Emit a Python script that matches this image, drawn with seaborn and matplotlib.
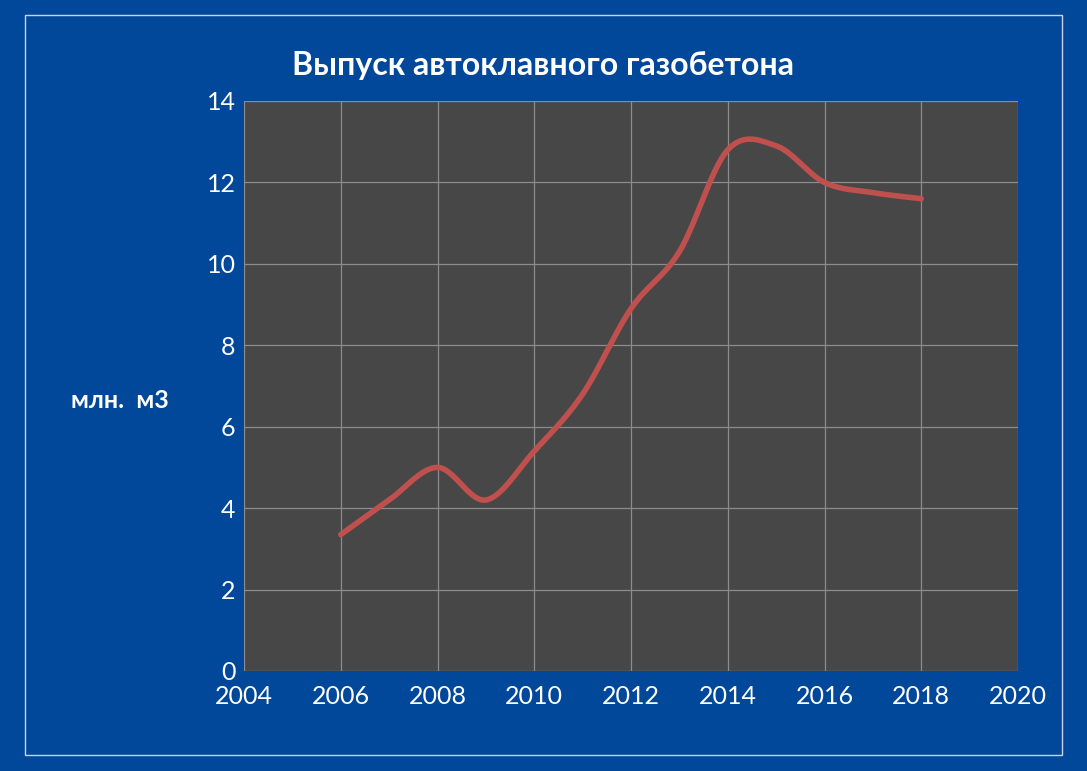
import numpy as np
import matplotlib
matplotlib.use("Agg")
import matplotlib.pyplot as plt
import seaborn as sns
from matplotlib.patches import Rectangle

years = [2006, 2007, 2008, 2009, 2010, 2011, 2012, 2013, 2014, 2015, 2016, 2017, 2018]
output = [3.35, 4.2, 5.0, 4.2, 5.4, 6.8, 8.9, 10.3, 12.8, 12.9, 12.0, 11.75, 11.6]


def smooth(x, y, n=30):
    # Catmull-Rom curve through the points, like a smoothed line in a spreadsheet
    x = np.asarray(x, float)
    y = np.asarray(y, float)
    px = np.concatenate([[2 * x[0] - x[1]], x, [2 * x[-1] - x[-2]]])
    py = np.concatenate([[2 * y[0] - y[1]], y, [2 * y[-1] - y[-2]]])
    xs, ys = [], []
    t = np.linspace(0, 1, n, endpoint=False)
    for i in range(1, len(px) - 2):
        for p, out in ((px, xs), (py, ys)):
            p0, p1, p2, p3 = p[i - 1], p[i], p[i + 1], p[i + 2]
            out.extend(0.5 * (2 * p1 + (-p0 + p2) * t
                              + (2 * p0 - 5 * p1 + 4 * p2 - p3) * t ** 2
                              + (-p0 + 3 * p1 - 3 * p2 + p3) * t ** 3))
    xs.append(x[-1])
    ys.append(y[-1])
    return np.array(xs), np.array(ys)


sns.set_theme(style="dark")
plt.rcParams['font.family'] = ['Lato', 'DejaVu Sans']

bg = '#02489a'
fig = plt.figure(figsize=(10.87, 7.71), dpi=100)
fig.patch.set_facecolor(bg)
fig.patches.append(Rectangle((25 / 1087, 1 - 755 / 771), 1037 / 1087, 740 / 771,
                             transform=fig.transFigure, fill=False,
                             edgecolor='#c8d4e8', linewidth=1))

ax = fig.add_axes([244 / 1087, 1 - 671 / 771, 774 / 1087, 570 / 771])
ax.set_facecolor('#474747')

sx, sy = smooth(years, output)
sns.lineplot(x=sx, y=sy, ax=ax, color='#c0504d', linewidth=4, sort=False)

ax.set_xlim(2004, 2020)
ax.set_ylim(0, 14)
ax.set_xticks(range(2004, 2021, 2))
ax.set_yticks(range(0, 15, 2))
ax.grid(True, color='#8c8c8c', linewidth=0.9)
for s in ax.spines.values():
    s.set_visible(False)
ax.tick_params(colors='white', labelsize=18, length=0)
ax.tick_params(axis='x', pad=10)
ax.tick_params(axis='y', pad=6)
ax.set_xlabel('')
ax.set_ylabel('')

fig.text(543 / 1087, 1 - 65 / 771, 'Выпуск автоклавного газобетона', color='white',
         fontsize=23, fontweight='bold', ha='center', va='center')
fig.text(120 / 1087, 1 - 400 / 771, 'млн.  м3', color='white',
         fontsize=18, fontweight='bold', ha='center', va='center')

fig.savefig('out.png', dpi=100, facecolor=bg)
